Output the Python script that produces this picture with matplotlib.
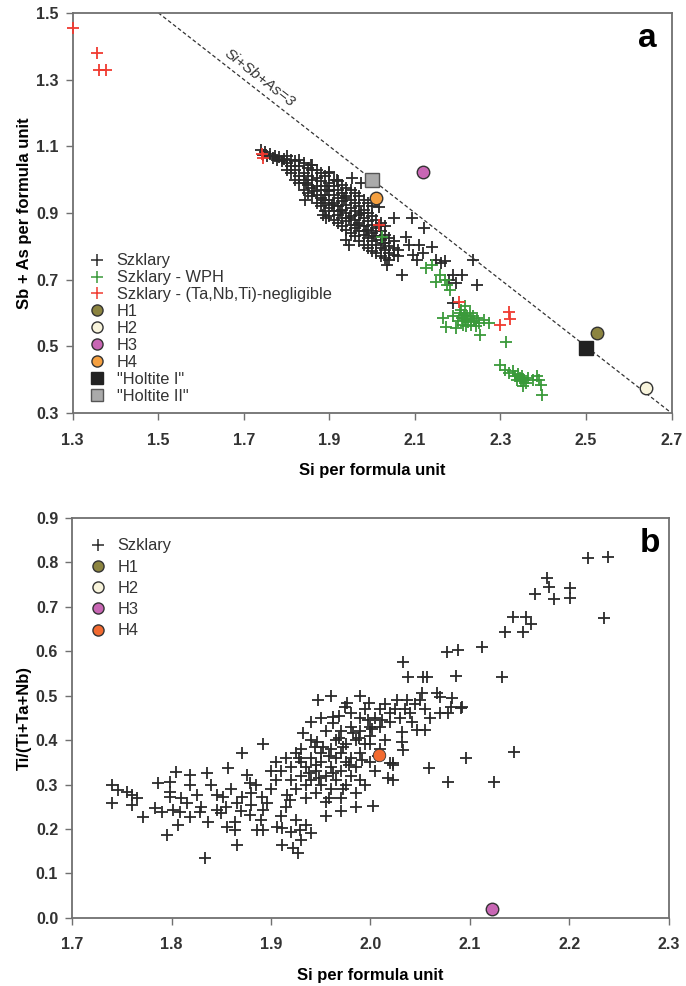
import matplotlib.pyplot as plt
from matplotlib.lines import Line2D

plt.rcParams['font.family'] = ['Liberation Sans', 'DejaVu Sans']

# ---------------- panel a : Sb+As vs Si ----------------
szk_a = [
    (1.740, 1.090), (1.745, 1.075), (1.750, 1.082), (1.755, 1.070), (1.762, 1.078), (1.768, 1.065),
    (1.772, 1.072), (1.778, 1.060), (1.783, 1.068), (1.790, 1.055), (1.795, 1.062),
    (1.800, 1.030), (1.800, 1.050), (1.800, 1.070), (1.810, 1.020), (1.810, 1.040), (1.810, 1.060),
    (1.820, 1.000), (1.820, 1.030), (1.820, 1.055), (1.830, 0.990), (1.830, 1.010), (1.830, 1.040),
    (1.830, 1.060), (1.840, 0.970), (1.840, 1.000), (1.840, 1.020), (1.840, 1.050),
    (1.850, 0.960), (1.850, 0.985), (1.850, 1.010), (1.850, 1.035),
    (1.860, 0.950), (1.860, 0.975), (1.860, 1.000), (1.860, 1.030), (1.860, 1.045),
    (1.870, 0.930), (1.870, 0.955), (1.870, 0.980), (1.870, 1.005), (1.870, 1.030),
    (1.880, 0.920), (1.880, 0.945), (1.880, 0.970), (1.880, 0.995), (1.880, 1.020),
    (1.890, 0.905), (1.890, 0.930), (1.890, 0.955), (1.890, 0.980), (1.890, 1.010),
    (1.900, 0.890), (1.900, 0.915), (1.900, 0.940), (1.900, 0.965), (1.900, 0.990), (1.900, 1.020),
    (1.910, 0.880), (1.910, 0.905), (1.910, 0.930), (1.910, 0.955), (1.910, 0.980), (1.910, 1.000),
    (1.920, 0.870), (1.920, 0.895), (1.920, 0.920), (1.920, 0.945), (1.920, 0.970), (1.920, 0.995),
    (1.930, 0.860), (1.930, 0.885), (1.930, 0.910), (1.930, 0.935), (1.930, 0.960), (1.930, 0.985),
    (1.940, 0.850), (1.940, 0.875), (1.940, 0.900), (1.940, 0.925), (1.940, 0.950), (1.940, 0.975),
    (1.950, 0.840), (1.950, 0.865), (1.950, 0.890), (1.950, 0.915), (1.950, 0.940), (1.950, 0.970),
    (1.960, 0.830), (1.960, 0.855), (1.960, 0.880), (1.960, 0.905), (1.960, 0.930), (1.960, 0.960),
    (1.970, 0.815), (1.970, 0.845), (1.970, 0.870), (1.970, 0.895), (1.970, 0.920), (1.970, 0.950),
    (1.980, 0.805), (1.980, 0.835), (1.980, 0.860), (1.980, 0.885), (1.980, 0.910), (1.980, 0.940),
    (1.990, 0.795), (1.990, 0.825), (1.990, 0.850), (1.990, 0.875), (1.990, 0.900), (1.990, 0.930),
    (2.000, 0.785), (2.000, 0.815), (2.000, 0.840), (2.000, 0.865), (2.000, 0.890), (2.000, 0.920),
    (2.010, 0.780), (2.010, 0.805), (2.010, 0.830), (2.010, 0.855), (2.010, 0.880),
    (2.020, 0.770), (2.020, 0.795), (2.020, 0.820), (2.020, 0.845), (2.020, 0.870),
    (2.030, 0.765), (2.030, 0.790), (2.030, 0.810), (2.030, 0.835), (2.030, 0.860),
    (2.040, 0.760), (2.040, 0.780), (2.040, 0.800), (2.040, 0.825),
    (2.050, 0.775), (2.050, 0.795), (2.050, 0.815), (2.060, 0.770), (2.060, 0.790),
    (1.845, 0.990), (1.865, 0.965), (1.885, 0.940), (1.905, 0.925), (1.925, 0.905), (1.945, 0.885),
    (1.965, 0.865), (1.985, 0.845), (2.005, 0.830), (2.025, 0.810), (1.895, 0.970), (1.935, 0.945),
    (1.975, 0.900), (2.015, 0.860),
    (1.842, 0.938), (1.858, 1.044), (1.900, 1.023), (1.952, 1.004), (1.975, 0.990), (1.917, 0.998),
    (1.884, 0.893), (1.893, 0.884), (1.940, 0.818), (1.947, 0.803), (2.052, 0.884), (2.094, 0.884),
    (2.122, 0.854), (2.034, 0.743), (2.069, 0.713), (2.080, 0.827), (2.087, 0.803), (2.139, 0.797),
    (2.017, 0.917), (2.110, 0.803), (2.162, 0.749), (2.150, 0.760), (2.170, 0.755), (2.188, 0.713),
    (2.209, 0.713), (2.235, 0.758), (2.244, 0.683), (2.188, 0.629), (2.180, 0.700), (2.195, 0.690),
    (2.120, 0.780), (2.095, 0.775), (2.105, 0.760),
]
wph_a = [
    (2.024, 0.827), (2.127, 0.734), (2.140, 0.745), (2.150, 0.692), (2.158, 0.715), (2.176, 0.683),
    (2.181, 0.668), (2.170, 0.700), (2.165, 0.584), (2.173, 0.557), (2.190, 0.590), (2.200, 0.575),
    (2.205, 0.600), (2.210, 0.585), (2.212, 0.565), (2.215, 0.595), (2.218, 0.578), (2.220, 0.560),
    (2.222, 0.590), (2.225, 0.572), (2.228, 0.600), (2.230, 0.582), (2.232, 0.565), (2.235, 0.590),
    (2.238, 0.575), (2.242, 0.560), (2.245, 0.585), (2.250, 0.570), (2.208, 0.610), (2.218, 0.620),
    (2.195, 0.555), (2.251, 0.533), (2.274, 0.569), (2.262, 0.580), (2.313, 0.512), (2.298, 0.443),
    (2.310, 0.430), (2.320, 0.420), (2.330, 0.425), (2.335, 0.410), (2.338, 0.400), (2.342, 0.418),
    (2.345, 0.405), (2.348, 0.395), (2.350, 0.412), (2.355, 0.400), (2.360, 0.390), (2.365, 0.405),
    (2.375, 0.400), (2.385, 0.410), (2.391, 0.398), (2.395, 0.385), (2.398, 0.353), (2.352, 0.380),
]
negl_a = [
    (1.300, 1.455), (1.356, 1.380), (1.361, 1.330), (1.378, 1.330), (1.742, 1.078), (1.745, 1.065),
    (2.017, 0.863), (2.204, 0.632), (2.298, 0.563), (2.321, 0.602), (2.323, 0.582),
]
h_a = {'H1': (2.525, 0.540), 'H2': (2.640, 0.375), 'H3': (2.120, 1.022), 'H4': (2.010, 0.945)}
holtite_1 = (2.500, 0.495)
holtite_2 = (2.000, 1.000)

# ---------------- panel b : Ti/(Ti+Ta+Nb) vs Si ----------------
szk_b = [
    (1.740, 0.299), (1.740, 0.258), (1.746, 0.287), (1.755, 0.283), (1.760, 0.276), (1.765, 0.269),
    (1.760, 0.254), (1.771, 0.227), (1.783, 0.247), (1.790, 0.238), (1.786, 0.303), (1.798, 0.305),
    (1.805, 0.328), (1.798, 0.283), (1.798, 0.272), (1.795, 0.186), (1.807, 0.209), (1.819, 0.321),
    (1.819, 0.299), (1.836, 0.326), (1.826, 0.276), (1.816, 0.258), (1.829, 0.238), (1.819, 0.227),
    (1.802, 0.242), (1.809, 0.238), (1.837, 0.215), (1.834, 0.134), (1.857, 0.337), (1.871, 0.371),
    (1.892, 0.391), (1.932, 0.416), (1.947, 0.490), (1.846, 0.276), (1.852, 0.272), (1.850, 0.236),
    (1.846, 0.242), (1.866, 0.258), (1.871, 0.272), (1.864, 0.215), (1.864, 0.197), (1.856, 0.204),
    (1.866, 0.164), (1.876, 0.321), (1.879, 0.303), (1.891, 0.272), (1.896, 0.258), (1.892, 0.242),
    (1.879, 0.231), (1.886, 0.197), (1.892, 0.197), (1.906, 0.204), (1.911, 0.202), (1.911, 0.164),
    (1.922, 0.157), (1.927, 0.145), (1.920, 0.193), (1.929, 0.197), (1.916, 0.276), (1.919, 0.265),
    (1.840, 0.300), (1.860, 0.290), (1.880, 0.280), (1.900, 0.290), (1.905, 0.310), (1.900, 0.330),
    (1.885, 0.300), (1.870, 0.240), (1.855, 0.250), (1.830, 0.250), (1.810, 0.270), (1.890, 0.220),
    (1.910, 0.230), (1.915, 0.250), (1.925, 0.220), (1.935, 0.210), (1.930, 0.175), (1.940, 0.190),
    (1.880, 0.255),
    (1.905, 0.350), (1.910, 0.330), (1.915, 0.360), (1.920, 0.310), (1.920, 0.340), (1.925, 0.370),
    (1.925, 0.290), (1.930, 0.320), (1.930, 0.350), (1.930, 0.380), (1.935, 0.270), (1.935, 0.300),
    (1.935, 0.340), (1.940, 0.360), (1.940, 0.310), (1.940, 0.400), (1.944, 0.384), (1.946, 0.395),
    (1.945, 0.280), (1.945, 0.330), (1.950, 0.350), (1.950, 0.300), (1.950, 0.370), (1.955, 0.320),
    (1.955, 0.420), (1.955, 0.260), (1.960, 0.340), (1.960, 0.380), (1.960, 0.290), (1.962, 0.452),
    (1.962, 0.438), (1.965, 0.360), (1.965, 0.310), (1.965, 0.400), (1.968, 0.455), (1.970, 0.330),
    (1.970, 0.370), (1.970, 0.420), (1.970, 0.270), (1.974, 0.474), (1.976, 0.483), (1.975, 0.350),
    (1.975, 0.300), (1.975, 0.390), (1.980, 0.430), (1.980, 0.360), (1.980, 0.320), (1.980, 0.460),
    (1.985, 0.400), (1.985, 0.340), (1.985, 0.280), (1.990, 0.450), (1.990, 0.420), (1.990, 0.370),
    (1.990, 0.310), (1.995, 0.390), (1.995, 0.470), (1.999, 0.483), (2.000, 0.430), (2.000, 0.350),
    (2.000, 0.410), (2.003, 0.251), (2.005, 0.450), (2.005, 0.330), (2.010, 0.470), (2.010, 0.430),
    (2.015, 0.400), (2.018, 0.314), (2.020, 0.348), (2.023, 0.348), (2.023, 0.310), (2.020, 0.440),
    (2.020, 0.460), (2.025, 0.470), (2.027, 0.490), (2.030, 0.450), (2.032, 0.418), (2.032, 0.395),
    (2.033, 0.377), (2.035, 0.470), (2.037, 0.490), (2.040, 0.460), (2.045, 0.480), (2.047, 0.423),
    (2.050, 0.490), (2.052, 0.506), (2.055, 0.423), (2.055, 0.470), (2.060, 0.450), (2.067, 0.506),
    (2.070, 0.497), (2.082, 0.495), (2.092, 0.474), (2.078, 0.461), (2.070, 0.461), (2.023, 0.344),
    (1.950, 0.450), (1.940, 0.440), (1.960, 0.500), (1.990, 0.500), (2.000, 0.390), (2.010, 0.380),
    (1.970, 0.240), (1.985, 0.250), (1.955, 0.230),
    (1.945, 0.345), (1.958, 0.365), (1.972, 0.385), (1.988, 0.405), (2.002, 0.425), (2.012, 0.445),
    (1.948, 0.315), (1.962, 0.325), (1.978, 0.345), (1.992, 0.355), (2.008, 0.365), (1.938, 0.325),
    (1.952, 0.385), (1.968, 0.405), (1.982, 0.415), (1.998, 0.445), (2.015, 0.480), (1.958, 0.270),
    (1.972, 0.290), (1.995, 0.300), (1.928, 0.360), (2.042, 0.440),
    (2.033, 0.576), (2.038, 0.542), (2.053, 0.542), (2.057, 0.542), (2.077, 0.598), (2.088, 0.603),
    (2.112, 0.610), (2.086, 0.544), (2.132, 0.542), (2.091, 0.472), (2.081, 0.474), (2.096, 0.360),
    (2.144, 0.373), (2.059, 0.337), (2.078, 0.306), (2.124, 0.306),
    (2.219, 0.810), (2.239, 0.812), (2.235, 0.675), (2.177, 0.765), (2.180, 0.745), (2.165, 0.729),
    (2.185, 0.718), (2.201, 0.742), (2.201, 0.720), (2.143, 0.677), (2.156, 0.677), (2.161, 0.661),
    (2.135, 0.643), (2.153, 0.643),
]
h_b = {'H3': (2.122, 0.020), 'H4': (2.009, 0.366)}

col_h = {'H1': '#8c8440', 'H2': '#f8f4dc', 'H3': '#c866b4', 'H4': '#f5a040'}
col_h4_b = '#f26a30'
spine_col = '#707070'


def style_axes(ax):
    for s in ax.spines.values():
        s.set_color(spine_col)
        s.set_linewidth(1.3)
    ax.tick_params(direction='out', length=5, width=1, color=spine_col,
                   labelsize=11.5, pad=5, top=False, right=False)
    ax.tick_params(axis='x', pad=9)
    for lab in ax.get_xticklabels() + ax.get_yticklabels():
        lab.set_fontweight('bold')
        lab.set_color('#333333')


def plot_crosses(ax, pts, color):
    xs = [p[0] for p in pts]
    ys = [p[1] for p in pts]
    ax.plot(xs, ys, '+', color=color, ms=8, mew=1.3, ls='none', clip_on=False, zorder=3)


fig = plt.figure(figsize=(6.86, 9.86), dpi=100)

# ---- a ----
ax1 = fig.add_axes([0.106, 0.581, 0.873, 0.406])
ax1.plot([1.5, 2.7], [1.5, 0.3], ls=(0, (3, 2)), color='#333333', lw=0.9)
plot_crosses(ax1, szk_a, '#2a2a2a')
plot_crosses(ax1, wph_a, '#3a9a3a')
plot_crosses(ax1, negl_a, '#f03a30')
for k, (x, y) in h_a.items():
    ax1.plot(x, y, 'o', ms=9, mfc=col_h[k], mec='#333333', mew=1, zorder=4)
ax1.plot(*holtite_1, 's', ms=10, mfc='#222222', mec='#222222', zorder=4)
ax1.plot(*holtite_2, 's', ms=10, mfc='#aaaaaa', mec='#555555', mew=1, zorder=4)
ax1.text(1.737, 1.305, 'Si+Sb+As=3', rotation=-37.9, ha='center', va='center',
         fontsize=11, style='italic', color='#333333')
ax1.text(0.975, 0.975, 'a', transform=ax1.transAxes, ha='right', va='top',
         fontsize=24, fontweight='bold')
ax1.set_xlim(1.3, 2.7)
ax1.set_ylim(0.3, 1.5)
ax1.set_xticks([1.3, 1.5, 1.7, 1.9, 2.1, 2.3, 2.5, 2.7])
ax1.set_yticks([0.3, 0.5, 0.7, 0.9, 1.1, 1.3, 1.5])
ax1.set_xticklabels(['1.3', '1.5', '1.7', '1.9', '2.1', '2.3', '2.5', '2.7'])
ax1.set_yticklabels(['0.3', '0.5', '0.7', '0.9', '1.1', '1.3', '1.5'])
ax1.set_xlabel('Si per formula unit', fontsize=12, fontweight='bold', labelpad=11)
ax1.set_ylabel('Sb + As per formula unit', fontsize=12, fontweight='bold', labelpad=3)
style_axes(ax1)

handles_a = [
    Line2D([], [], ls='none', marker='+', color='#2a2a2a', ms=8, mew=1.1),
    Line2D([], [], ls='none', marker='+', color='#3a9a3a', ms=8, mew=1.1),
    Line2D([], [], ls='none', marker='+', color='#f03a30', ms=8, mew=1.1),
]
for k in ['H1', 'H2', 'H3', 'H4']:
    handles_a.append(Line2D([], [], ls='none', marker='o', ms=8, mfc=col_h[k], mec='#333333'))
handles_a.append(Line2D([], [], ls='none', marker='s', ms=8, mfc='#222222', mec='#222222'))
handles_a.append(Line2D([], [], ls='none', marker='s', ms=8, mfc='#aaaaaa', mec='#555555'))
labels_a = ['Szklary', 'Szklary - WPH', 'Szklary - (Ta,Nb,Ti)-negligible', 'H1', 'H2', 'H3', 'H4',
            '"Holtite I"', '"Holtite II"']
ax1.legend(handles_a, labels_a, loc='lower left', bbox_to_anchor=(0.005, -0.01), frameon=False,
           fontsize=11.8, handlelength=1.0, handletextpad=0.7, labelspacing=0.12,
           borderaxespad=0.4, labelcolor='#333333')

# ---- b ----
ax2 = fig.add_axes([0.105, 0.069, 0.870, 0.406])
plot_crosses(ax2, szk_b, '#2a2a2a')
ax2.plot(*h_b['H3'], 'o', ms=9, mfc=col_h['H3'], mec='#333333', mew=1, zorder=4)
ax2.plot(*h_b['H4'], 'o', ms=9, mfc=col_h4_b, mec='#333333', mew=0.6, zorder=4)
ax2.text(0.985, 0.975, 'b', transform=ax2.transAxes, ha='right', va='top',
         fontsize=24, fontweight='bold')
ax2.set_xlim(1.7, 2.3)
ax2.set_ylim(0.0, 0.9)
ax2.set_xticks([1.7, 1.8, 1.9, 2.0, 2.1, 2.2, 2.3])
ax2.set_yticks([0.0, 0.1, 0.2, 0.3, 0.4, 0.5, 0.6, 0.7, 0.8, 0.9])
ax2.set_xticklabels(['1.7', '1.8', '1.9', '2.0', '2.1', '2.2', '2.3'])
ax2.set_yticklabels(['0.0', '0.1', '0.2', '0.3', '0.4', '0.5', '0.6', '0.7', '0.8', '0.9'])
ax2.set_xlabel('Si per formula unit', fontsize=12, fontweight='bold', labelpad=11)
ax2.set_ylabel('Ti/(Ti+Ta+Nb)', fontsize=12, fontweight='bold', labelpad=3)
style_axes(ax2)

handles_b = [Line2D([], [], ls='none', marker='+', color='#2a2a2a', ms=8, mew=1.1)]
for k, c in [('H1', col_h['H1']), ('H2', col_h['H2']), ('H3', col_h['H3']), ('H4', col_h4_b)]:
    handles_b.append(Line2D([], [], ls='none', marker='o', ms=8, mfc=c, mec='#333333'))
ax2.legend(handles_b, ['Szklary', 'H1', 'H2', 'H3', 'H4'], loc='upper left',
           bbox_to_anchor=(0.005, 0.985), frameon=False,
           fontsize=11.8, handlelength=1.0, handletextpad=0.7, labelspacing=0.38,
           borderaxespad=0.5, labelcolor='#333333')

fig.savefig('out.png', dpi=100)
